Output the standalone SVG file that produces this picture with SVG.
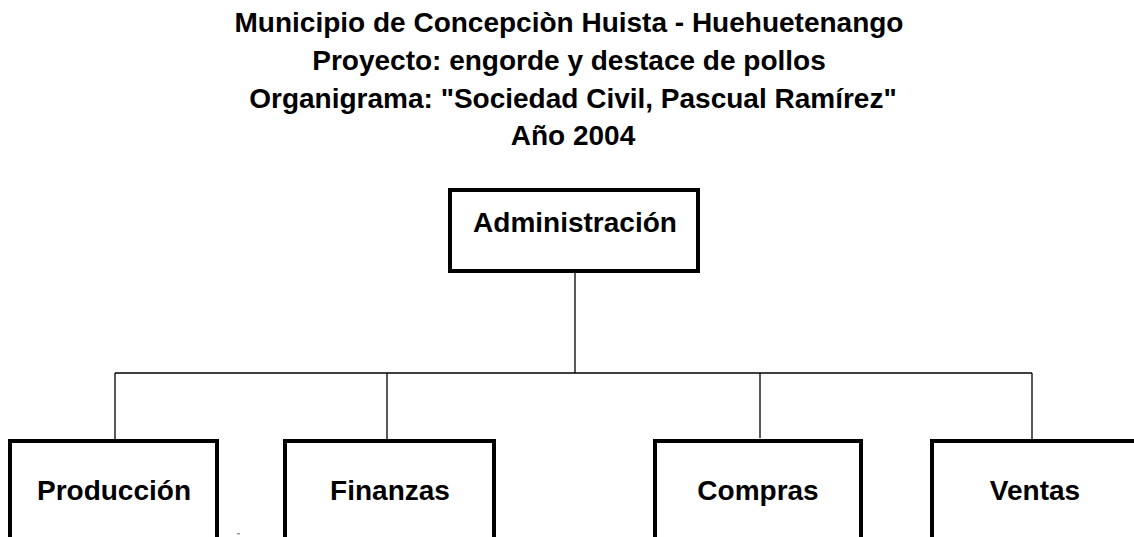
<svg xmlns="http://www.w3.org/2000/svg" width="1134" height="537" viewBox="0 0 1134 537">
<style>
.t{font-family:"Liberation Sans",Arial,sans-serif;font-weight:bold;font-size:28px;fill:#000;text-anchor:middle}
.box{fill:#fff;stroke:#000;stroke-width:4}
.ln{fill:none;stroke:#000;stroke-width:1.3}
</style>
<rect width="1134" height="537" fill="#fff"/>
<g id="title">
<text class="t" x="569" y="32">Municipio de Concepciòn Huista - Huehuetenango</text>
<text class="t" x="569" y="70">Proyecto: engorde y destace de pollos</text>
<text class="t" x="573" y="108">Organigrama: "Sociedad Civil, Pascual Ramírez"</text>
<text class="t" x="573" y="145">Año 2004</text>
</g>
<g id="connectors">
<line class="ln" x1="575" y1="271" x2="575" y2="373"/>
<line class="ln" x1="115" y1="373" x2="1032" y2="373"/>
<line class="ln" x1="115" y1="373" x2="115" y2="440"/>
<line class="ln" x1="387" y1="373" x2="387" y2="440"/>
<line class="ln" x1="760" y1="373" x2="760" y2="438"/>
<line class="ln" x1="1032" y1="373" x2="1032" y2="440"/>
</g>
<g id="administracion">
<rect class="box" x="450" y="190" width="248" height="81"/>
<text class="t" x="575" y="232">Administración</text>
</g>
<g id="produccion">
<rect class="box" x="10" y="441" width="207" height="110"/>
<text class="t" x="114" y="500">Producción</text>
</g>
<g id="finanzas">
<rect class="box" x="285" y="441" width="209" height="110"/>
<text class="t" x="390" y="500">Finanzas</text>
</g>
<g id="compras">
<rect class="box" x="655" y="441" width="206" height="110"/>
<text class="t" x="758" y="500">Compras</text>
</g>
<g id="ventas">
<rect class="box" x="932" y="441" width="206" height="110"/>
<text class="t" x="1035" y="500">Ventas</text>
</g>
<rect x="237" y="533" width="3" height="1.5" fill="#999"/>
</svg>
